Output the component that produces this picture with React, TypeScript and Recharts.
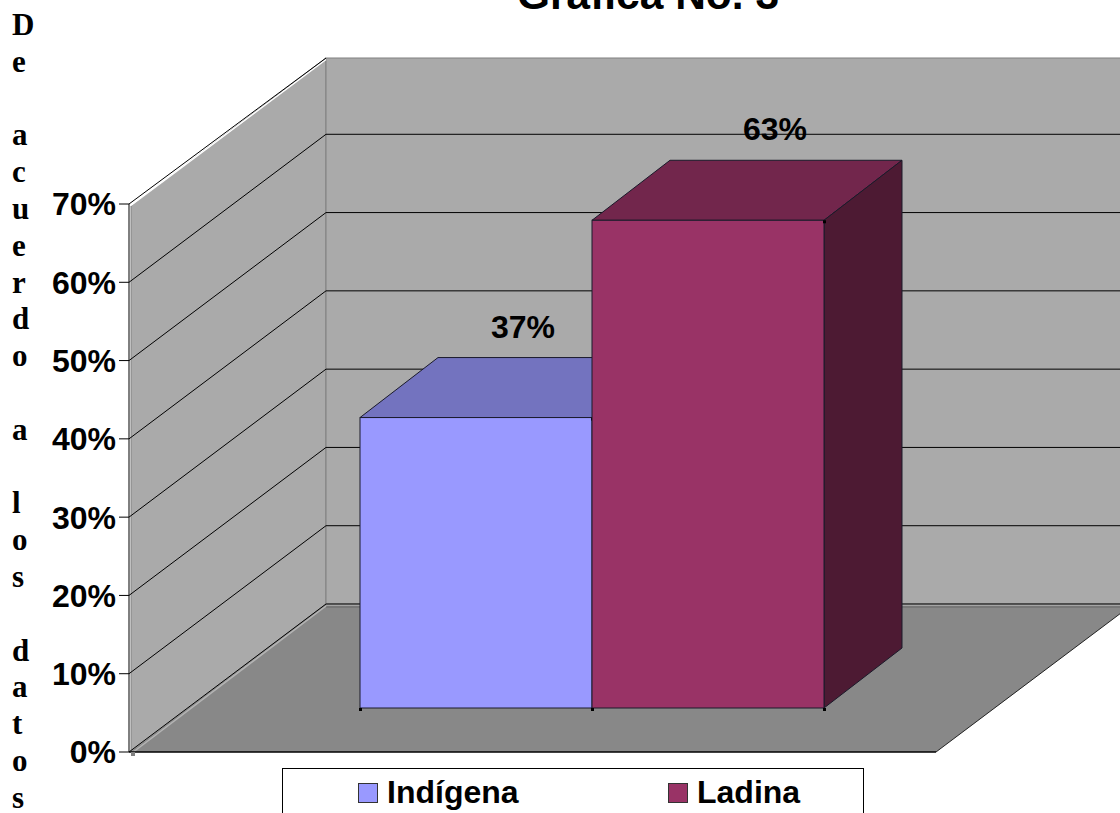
import React from "react";
import { BarChart, Bar, XAxis, YAxis, CartesianGrid, Legend, LabelList } from "recharts";

const categories = ["Grupo étnico"];
const indigenaValues = [37.1];
const ladinaValues = [62.3];
const indigenaLabels = ["37%"];
const ladinaLabels = ["63%"];
const yTicks = [0, 10, 20, 30, 40, 50, 60, 70];

const chartData = categories.map((name, i) => ({
  name,
  Indígena: indigenaValues[i],
  Ladina: ladinaValues[i],
}));

const SANS = "'Liberation Sans', Arial, sans-serif";
const SERIF = "'Liberation Serif', 'Times New Roman', serif";

// the 3d box: how far the walls go back, and where the bars stand on the floor
const WALL_DX = 197;
const WALL_DY = -148;
const BAR_DX = 59;
const BAR_DY = -44;
const DEPTH_DX = 78;
const DEPTH_DY = -60;

const PLOT_LEFT = 129;
const PLOT_RIGHT = 936;
const PLOT_TOP = 204;
const PLOT_BOTTOM = 752;
const WALL_TOP = 58;

// side letters are spaced like the lines of the page around the chart
const sideLines = ["D", "e", "", "a", "c", "u", "e", "r", "d", "o", "", "a", "", "l", "o", "s", "", "d", "a", "t", "o", "s"];

const Bar3D = (face: string, top: string, side: string) => (props: any) => {
  const x = props.x + BAR_DX;
  const y = props.y + BAR_DY;
  const { width, height } = props;
  const r = x + width;
  const b = y + height;
  const ink = "#1a1a2a";
  return (
    <g>
      <polygon
        points={`${x},${y} ${x + DEPTH_DX},${y + DEPTH_DY} ${r + DEPTH_DX},${y + DEPTH_DY} ${r},${y}`}
        fill={top}
        stroke={ink}
        strokeWidth={1}
      />
      <polygon
        points={`${r},${y} ${r + DEPTH_DX},${y + DEPTH_DY} ${r + DEPTH_DX},${b + DEPTH_DY} ${r},${b}`}
        fill={side}
        stroke={ink}
        strokeWidth={1}
      />
      <rect x={x} y={y} width={width} height={height} fill={face} stroke={ink} strokeWidth={1} />
      <rect x={x - 1} y={b} width={3} height={3} fill="#000" />
      <rect x={r - 1} y={b} width={3} height={3} fill="#000" />
      <rect x={r - 1} y={y} width={3} height={3} fill="#000" />
    </g>
  );
};

const barLabel = (text: string, shift: number) => (props: any) => (
  <text
    x={props.x + props.width / 2 + shift}
    y={props.y - 124}
    textAnchor="middle"
    fontFamily={SANS}
    fontWeight={700}
    fontSize={32}
    fill="#000"
  >
    {text}
  </text>
);

const gridLine = (props: any) => {
  const { x1, y1, x2 } = props;
  const isTop = y1 <= PLOT_TOP + 1;
  const backX = x1 + WALL_DX;
  const backY = isTop ? WALL_TOP : y1 + WALL_DY;
  return (
    <g key={props.key ?? y1}>
      <line x1={x1} y1={y1} x2={backX} y2={backY} stroke="#000" strokeWidth={1} />
      {!isTop && <line x1={backX} y1={backY} x2={Math.max(x2, 1120)} y2={backY} stroke="#000" strokeWidth={1} />}
    </g>
  );
};

const LegendBox = ({ payload }: any) => (
  <div
    style={{
      width: 582,
      height: 45,
      boxSizing: "border-box",
      border: "1px solid #000",
      borderBottom: "none",
      position: "relative",
      fontFamily: SANS,
      fontWeight: 700,
      fontSize: 32,
      background: "#fff",
    }}
  >
    {(payload || []).map((p: any, i: number) => (
      <div key={p.value} style={{ position: "absolute", left: i === 0 ? 74.5 : 384.5, top: 0, height: 45, whiteSpace: "nowrap" }}>
        <span
          style={{
            position: "absolute",
            left: 0,
            top: 14,
            width: 18,
            height: 18,
            background: p.color,
            border: "1px solid #333",
          }}
        />
        <span style={{ position: "absolute", left: 29.5, top: 5, lineHeight: "37px" }}>{p.value}</span>
      </div>
    ))}
  </div>
);

export default function App() {
  return (
    <div style={{ position: "absolute", left: 0, top: 0, width: 1120, height: 813, overflow: "hidden", background: "#fff" }}>
      {/* walls and floor sit behind the chart */}
      <svg width={1120} height={813} style={{ position: "absolute", left: 0, top: 0 }}>
        <polygon
          points={`${PLOT_LEFT + 2},${PLOT_TOP + 2} ${PLOT_LEFT + WALL_DX},${WALL_TOP} ${PLOT_LEFT + WALL_DX},${PLOT_BOTTOM + WALL_DY} ${PLOT_LEFT + 2},${PLOT_BOTTOM}`}
          fill="#aaaaaa"
          stroke="#808080"
          strokeWidth={1}
        />
        <rect
          x={PLOT_LEFT + WALL_DX}
          y={WALL_TOP}
          width={1120}
          height={PLOT_BOTTOM + WALL_DY - WALL_TOP}
          fill="#aaaaaa"
          stroke="#808080"
          strokeWidth={1}
        />
        <polygon
          points={`${PLOT_LEFT + 2},${PLOT_BOTTOM} ${PLOT_RIGHT},${PLOT_BOTTOM} ${PLOT_RIGHT + WALL_DX},${PLOT_BOTTOM + WALL_DY} ${PLOT_LEFT + WALL_DX},${PLOT_BOTTOM + WALL_DY}`}
          fill="#888888"
        />
        <line x1={PLOT_LEFT + WALL_DX} y1={PLOT_BOTTOM + WALL_DY + 1} x2={1120} y2={PLOT_BOTTOM + WALL_DY + 1} stroke="#c0c0c0" strokeWidth={1} />
        <line x1={PLOT_LEFT + WALL_DX} y1={PLOT_BOTTOM + WALL_DY + 3} x2={1120} y2={PLOT_BOTTOM + WALL_DY + 3} stroke="#777777" strokeWidth={2} />
        <line x1={PLOT_LEFT + 3} y1={PLOT_BOTTOM + 1} x2={PLOT_LEFT + WALL_DX} y2={PLOT_BOTTOM + WALL_DY + 2} stroke="#b4b4b4" strokeWidth={1.5} />
        <line x1={PLOT_LEFT} y1={PLOT_BOTTOM} x2={PLOT_RIGHT} y2={PLOT_BOTTOM} stroke="#000" strokeWidth={1.5} />
        <line x1={PLOT_RIGHT} y1={PLOT_BOTTOM} x2={PLOT_RIGHT + WALL_DX} y2={PLOT_BOTTOM + WALL_DY} stroke="#222" strokeWidth={1} />
        <line x1={PLOT_LEFT + 2} y1={PLOT_TOP + 1.5} x2={PLOT_LEFT + WALL_DX} y2={WALL_TOP + 1.5} stroke="#fff" strokeWidth={1.5} />
        <rect x={PLOT_LEFT + 2} y={PLOT_BOTTOM} width={4} height={4} fill="#808080" />
      </svg>

      <div style={{ position: "absolute", left: 0, top: 0 }}>
        <BarChart
          width={1120}
          height={813}
          data={chartData}
          margin={{ top: PLOT_TOP, right: 1120 - PLOT_RIGHT, bottom: 813 - PLOT_BOTTOM, left: 0 }}
          barSize={232}
          barGap={0}
        >
          <CartesianGrid vertical={false} horizontal={gridLine} />
          <XAxis dataKey="name" hide />
          <YAxis
            width={PLOT_LEFT}
            domain={[0, 70]}
            ticks={yTicks}
            interval={0}
            tickFormatter={(v: number) => `${v}%`}
            tickSize={10}
            tickMargin={3}
            axisLine={{ stroke: "#000", strokeWidth: 1 }}
            tickLine={{ stroke: "#000", strokeWidth: 1 }}
            tick={{ fontFamily: SANS, fontWeight: 700, fontSize: 32, fill: "#000" }}
          />
          <Legend
            layout="horizontal"
            verticalAlign="middle"
            content={<LegendBox />}
            wrapperStyle={{ position: "absolute", left: 282, top: 768, width: 582, height: 45, bottom: "auto", right: "auto", margin: 0 }}
          />
          <Bar dataKey="Indígena" fill="#9999ff" isAnimationActive={false} shape={Bar3D("#9999ff", "#7373bf", "#4d4d80")}>
            <LabelList dataKey="Indígena" content={barLabel(indigenaLabels[0], 106)} />
          </Bar>
          <Bar dataKey="Ladina" fill="#993366" isAnimationActive={false} shape={Bar3D("#993366", "#72264c", "#4d1a33")}>
            <LabelList dataKey="Ladina" content={barLabel(ladinaLabels[0], 126)} />
          </Bar>
          <text x={648} y={9} textAnchor="middle" fontFamily={SANS} fontWeight={700} fontSize={42.5} fill="#000">
            Gráfica No. 3
          </text>
          {sideLines.map((ch, i) =>
            ch ? (
              <text key={i} x={12} y={35 + i * 36.8} fontFamily={SERIF} fontWeight={700} fontSize={31} fill="#000">
                {ch}
              </text>
            ) : null
          )}
        </BarChart>
      </div>
    </div>
  );
}
